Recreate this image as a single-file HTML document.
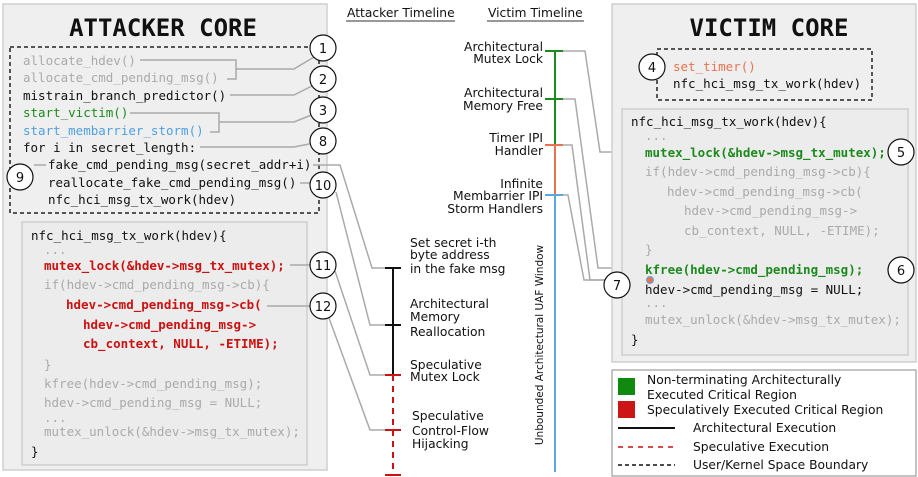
<!DOCTYPE html>
<html><head><meta charset="utf-8"><style>
html,body{margin:0;padding:0;background:#fff;}
svg{display:block;}
.m{font-family:"DejaVu Sans Mono","Liberation Mono",monospace;font-size:12.5px;}
.s{font-family:"DejaVu Sans","Liberation Sans",sans-serif;font-size:12.3px;fill:#111;}
.g{fill:#aaa}.k{fill:#111}.gr{fill:#1d8a1d;font-weight:bold}.rd{fill:#cc1111;font-weight:bold}
.c{fill:#fff;stroke:#111;stroke-width:1.2}
.ct{font-family:"DejaVu Sans","Liberation Sans",sans-serif;font-size:13px;fill:#111;text-anchor:middle}
.cn{fill:none;stroke:#aaa;stroke-width:1.5}
</style></head><body>
<svg width="918" height="477" viewBox="0 0 918 477" xmlns="http://www.w3.org/2000/svg">
<rect x="3" y="4" width="324" height="466" fill="#efefef" stroke="#cfcfcf" stroke-width="1.5"/>
<text x="163" y="36" text-anchor="middle" style="font-family:'DejaVu Sans Mono','Liberation Mono',monospace;font-size:24px;font-weight:bold" fill="#111">ATTACKER CORE</text>
<rect x="10" y="47" width="309" height="166" fill="none" stroke="#222" stroke-width="1.5" stroke-dasharray="4,3"/>
<g class="m">
<text x="23" y="65" class="g">allocate_hdev()</text>
<text x="23" y="82" class="g">allocate_cmd_pending_msg()</text>
<text x="23" y="100" class="k">mistrain_branch_predictor()</text>
<text x="23" y="117" fill="#1d8a1d">start_victim()</text>
<text x="23" y="135" fill="#4fa0e0">start_membarrier_storm()</text>
<text x="23" y="152" class="k">for i in secret_length:</text>
<text x="48" y="169" class="k">fake_cmd_pending_msg(secret_addr+i)</text>
<text x="48" y="187" class="k">reallocate_fake_cmd_pending_msg()</text>
<text x="48" y="204" class="k">nfc_hci_msg_tx_work(hdev)</text>
</g>
<rect x="22" y="222" width="285" height="243" fill="#ececec" stroke="#cfcfcf" stroke-width="1.5"/>
<g class="m">
<text x="31" y="240" class="k">nfc_hci_msg_tx_work(hdev){</text>
<text x="44" y="254" class="g">...</text>
<text x="44" y="270" class="rd">mutex_lock(&amp;hdev-&gt;msg_tx_mutex);</text>
<text x="44" y="289" class="g">if(hdev-&gt;cmd_pending_msg-&gt;cb){</text>
<text x="66" y="309" class="rd">hdev-&gt;cmd_pending_msg-&gt;cb(</text>
<text x="83" y="329" class="rd">hdev-&gt;cmd_pending_msg-&gt;</text>
<text x="83" y="348" class="rd">cb_context, NULL, -ETIME);</text>
<text x="44" y="369" class="g">}</text>
<text x="44" y="388" class="g">kfree(hdev-&gt;cmd_pending_msg);</text>
<text x="44" y="407" class="g">hdev-&gt;cmd_pending_msg = NULL;</text>
<text x="44" y="422" class="g">...</text>
<text x="44" y="436" class="g">mutex_unlock(&amp;hdev-&gt;msg_tx_mutex);</text>
<text x="31" y="456" class="k">}</text>
</g>
<g class="cn">
<polyline points="140,60 236,60 236,79 227,79"/>
<polyline points="236,69 294,69 314,57"/>
<polyline points="230,95 294,95 314,85"/>
<polyline points="130,113 219,113 219,132 210,132"/>
<polyline points="219,122 294,122 314,114"/>
<polyline points="200,147 294,147 314,143"/>
<polyline points="34,165 46,165"/>
<polyline points="313,165 340,165 372,268 387,268"/>
<polyline points="300,183 310,183"/>
<polyline points="336,192 370,325 387,325"/>
<polyline points="290,265 310,265"/>
<polyline points="335,271 370,375 387,375"/>
<polyline points="267,306 310,306"/>
<polyline points="329,318 370,430 387,430"/>
</g>
<g>
<circle class="c" cx="323" cy="48" r="13"/><text class="ct" x="323" y="53">1</text>
<circle class="c" cx="323" cy="79" r="13"/><text class="ct" x="323" y="84">2</text>
<circle class="c" cx="323" cy="110" r="13"/><text class="ct" x="323" y="115">3</text>
<circle class="c" cx="323" cy="141" r="13"/><text class="ct" x="323" y="146">8</text>
<circle class="c" cx="20" cy="177" r="13"/><text class="ct" x="20" y="182">9</text>
<circle class="c" cx="323" cy="185" r="13"/><text class="ct" x="323" y="190">10</text>
<circle class="c" cx="323" cy="265" r="13"/><text class="ct" x="323" y="270">11</text>
<circle class="c" cx="323" cy="306" r="13"/><text class="ct" x="323" y="311">12</text>
</g>
<text class="s" x="347" y="17">Attacker Timeline</text>
<line x1="346" y1="21" x2="455" y2="21" stroke="#333" stroke-width="1"/>
<line x1="393" y1="268" x2="393" y2="375" stroke="#111" stroke-width="2"/>
<line x1="393" y1="375" x2="393" y2="475" stroke="#cc1111" stroke-width="2" stroke-dasharray="6,5"/>
<g stroke-width="2">
<line x1="385" y1="268" x2="401" y2="268" stroke="#111"/>
<line x1="385" y1="325" x2="401" y2="325" stroke="#111"/>
<line x1="385" y1="375" x2="401" y2="375" stroke="#cc1111"/>
<line x1="385" y1="430" x2="401" y2="430" stroke="#cc1111"/>
<line x1="385" y1="475" x2="401" y2="475" stroke="#cc1111"/>
</g>
<g class="s">
<text x="410" y="247">Set secret i-th</text><text x="410" y="259">byte address</text><text x="410" y="273">in the fake msg</text>
<text x="410" y="308">Architectural</text><text x="410" y="321">Memory</text><text x="410" y="336">Reallocation</text>
<text x="410" y="369">Speculative</text><text x="410" y="381">Mutex Lock</text>
<text x="412" y="420">Speculative</text><text x="412" y="435">Control-Flow</text><text x="412" y="448">Hijacking</text>
</g>
<text class="s" x="488" y="17">Victim Timeline</text>
<line x1="487" y1="21" x2="584" y2="21" stroke="#333" stroke-width="1"/>
<line x1="555" y1="51" x2="555" y2="145" stroke="#1d8a1d" stroke-width="2"/>
<line x1="555" y1="145" x2="555" y2="195" stroke="#e8734f" stroke-width="2"/>
<line x1="555" y1="195" x2="555" y2="472" stroke="#5aa6e0" stroke-width="2"/>
<g stroke-width="2">
<line x1="545" y1="51" x2="563" y2="51" stroke="#1d8a1d"/>
<line x1="545" y1="99" x2="563" y2="99" stroke="#1d8a1d"/>
<line x1="545" y1="145" x2="563" y2="145" stroke="#e8734f"/>
<line x1="545" y1="195" x2="563" y2="195" stroke="#5aa6e0"/>
</g>
<g class="s" text-anchor="end">
<text x="543" y="51">Architectural</text><text x="543" y="63">Mutex Lock</text>
<text x="543" y="97">Architectural</text><text x="543" y="110">Memory Free</text>
<text x="543" y="142">Timer IPI</text><text x="543" y="155">Handler</text>
<text x="543" y="188">Infinite</text><text x="543" y="200">Membarrier IPI</text><text x="543" y="213">Storm Handlers</text>
</g>
<text class="s" transform="translate(543,345) rotate(-90)" text-anchor="middle" style="font-size:10.5px">Unbounded Architectural UAF Window</text>
<g class="cn">
<polyline points="563,51 585,51 600,152 638,152"/>
<polyline points="563,99 575,99 598,268 638,268"/>
<polyline points="563,145 572,145 590,280 605,280"/>
<polyline points="563,195 568,195 584,280 605,280"/>
</g>
<rect x="612" y="4" width="304" height="358" fill="#efefef" stroke="#cfcfcf" stroke-width="1.5"/>
<text x="769" y="36" text-anchor="middle" style="font-family:'DejaVu Sans Mono','Liberation Mono',monospace;font-size:24px;font-weight:bold" fill="#111">VICTIM CORE</text>
<rect x="657" y="49" width="215" height="51" fill="none" stroke="#222" stroke-width="1.5" stroke-dasharray="4,3"/>
<g class="m">
<text x="673" y="71" fill="#e8734f">set_timer()</text>
<text x="673" y="88" class="k">nfc_hci_msg_tx_work(hdev)</text>
</g>
<rect x="622" y="109" width="286" height="246" fill="#ececec" stroke="#cfcfcf" stroke-width="1.5"/>
<g class="m">
<text x="631" y="126" class="k">nfc_hci_msg_tx_work(hdev){</text>
<text x="645" y="140" class="g">...</text>
<text x="645" y="157" class="gr">mutex_lock(&amp;hdev-&gt;msg_tx_mutex);</text>
<text x="645" y="176" class="g">if(hdev-&gt;cmd_pending_msg-&gt;cb){</text>
<text x="667" y="196" class="g">hdev-&gt;cmd_pending_msg-&gt;cb(</text>
<text x="684" y="215" class="g">hdev-&gt;cmd_pending_msg-&gt;</text>
<text x="684" y="235" class="g">cb_context, NULL, -ETIME);</text>
<text x="645" y="254" class="g">}</text>
<text x="645" y="274" class="gr">kfree(hdev-&gt;cmd_pending_msg);</text>
<text x="645" y="294" class="k">hdev-&gt;cmd_pending_msg = NULL;</text>
<text x="645" y="307" class="g">...</text>
<text x="645" y="324" class="g">mutex_unlock(&amp;hdev-&gt;msg_tx_mutex);</text>
<text x="631" y="344" class="k">}</text>
</g>
<circle class="c" cx="652" cy="67" r="13"/><text class="ct" x="652" y="72">4</text>
<circle class="c" cx="901" cy="152" r="13"/><text class="ct" x="901" y="157">5</text>
<circle class="c" cx="901" cy="270" r="13"/><text class="ct" x="901" y="275">6</text>
<circle class="c" cx="617" cy="285" r="13"/><text class="ct" x="617" y="290">7</text>
<circle cx="650" cy="280" r="3.5" fill="#e8734f" stroke="#5aa6e0" stroke-width="1"/>
<rect x="612" y="370" width="304" height="106" fill="#fff" stroke="#888" stroke-width="1"/>
<rect x="618" y="378" width="17" height="17" fill="#0f8a0f"/>
<rect x="618" y="401" width="17" height="17" fill="#cc1515"/>
<g class="s">
<text x="647" y="384">Non-terminating Architecturally</text>
<text x="647" y="399">Executed Critical Region</text>
<text x="647" y="414">Speculatively Executed Critical Region</text>
<text x="693" y="432">Architectural Execution</text>
<text x="693" y="451">Speculative Execution</text>
<text x="693" y="469">User/Kernel Space Boundary</text>
</g>
<line x1="618" y1="428" x2="675" y2="428" stroke="#111" stroke-width="2"/>
<line x1="618" y1="447" x2="675" y2="447" stroke="#cc1111" stroke-width="1.5" stroke-dasharray="5,5"/>
<line x1="618" y1="465" x2="675" y2="465" stroke="#111" stroke-width="1.5" stroke-dasharray="4,3"/>
</svg>
</body></html>
